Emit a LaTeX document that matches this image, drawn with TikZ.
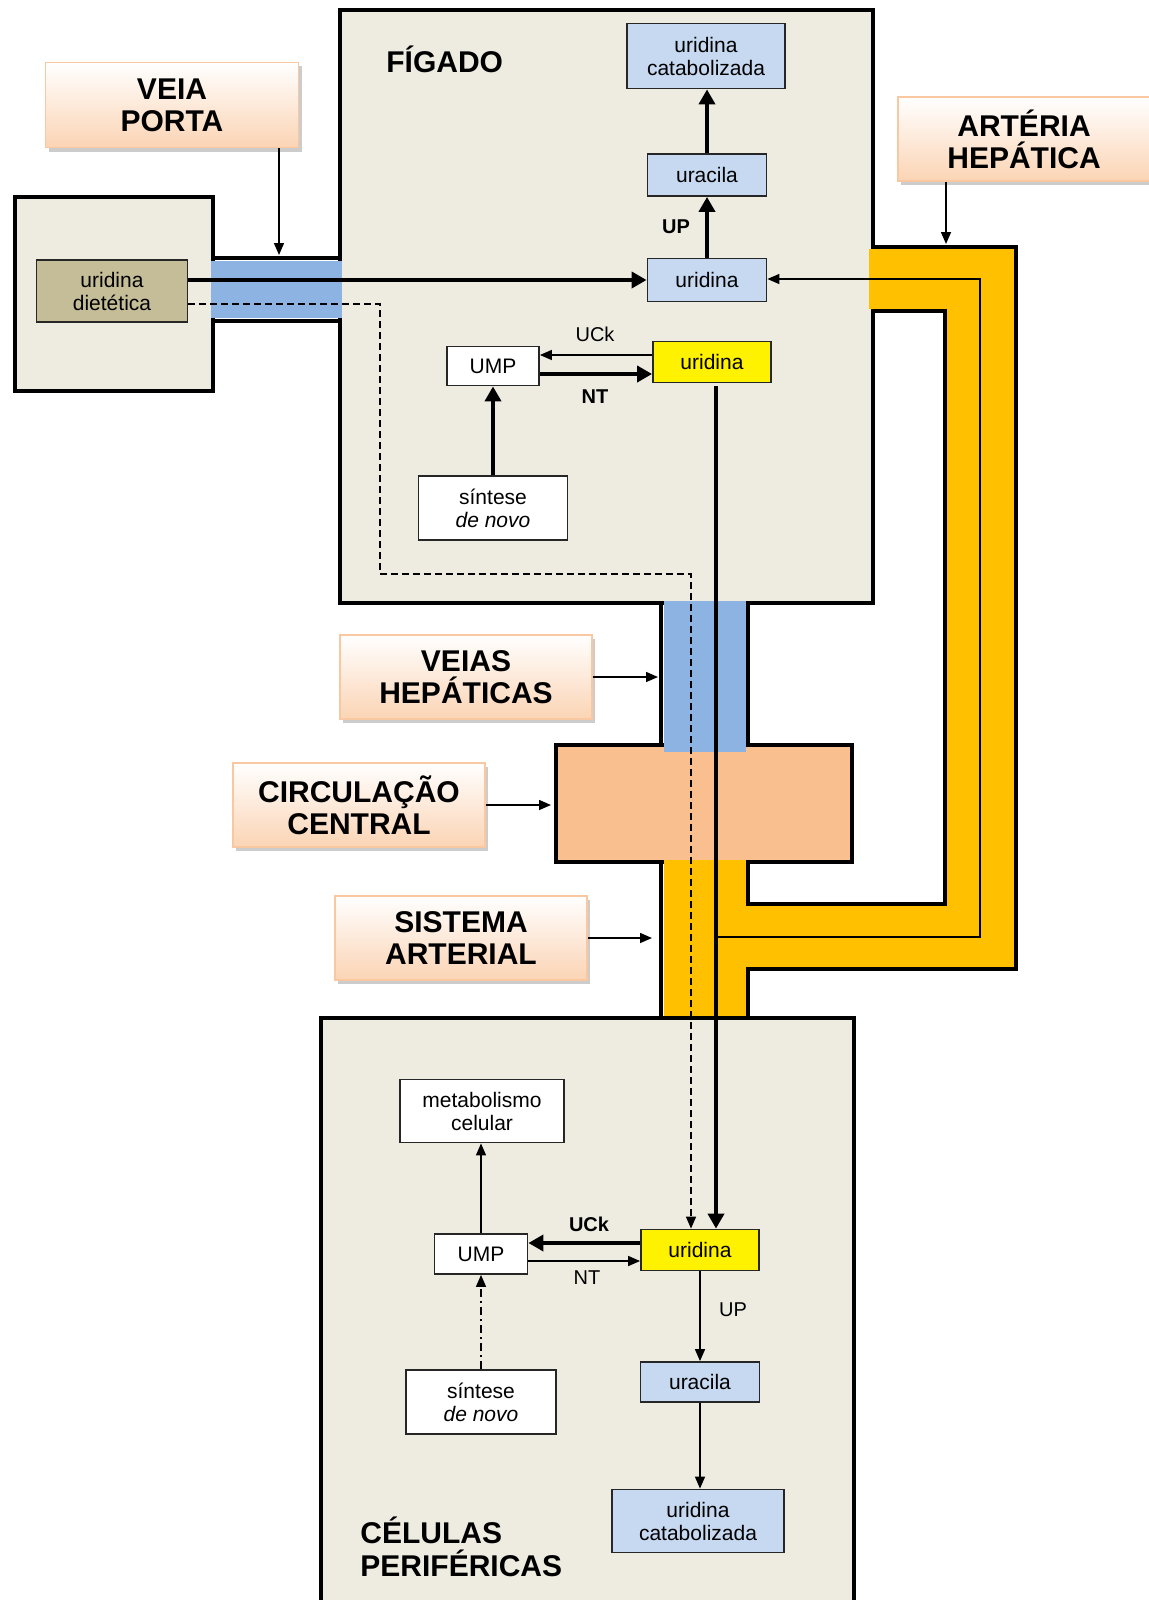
\documentclass[tikz,border=0pt]{standalone}
\usepackage{fontspec}
\setmainfont{Liberation Sans}
\usetikzlibrary{arrows.meta,shadows}
\definecolor{beige}{HTML}{EEECE1}
\definecolor{lblue}{HTML}{C6D9F1}
\definecolor{tubeblue}{HTML}{8DB3E2}
\definecolor{artorange}{HTML}{FFC000}
\definecolor{peach}{HTML}{FABF8F}
\definecolor{labbot}{HTML}{FBD4B4}
\definecolor{labborder}{HTML}{F9C8A0}
\definecolor{tanbox}{HTML}{C4BD97}
\tikzset{
  wall/.style={line width=2.25pt},
  sz/.style 2 args={minimum width=#1*0.5pt, minimum height=#2*0.5pt},
  nbox/.style={draw=black!85, line width=0.9pt, inner sep=0pt, align=center,
    font=\fontsize{10.5}{11.5}\selectfont},
  lab/.style={draw=labborder, line width=0.6pt, top color=white, bottom color=labbot,
    drop shadow={shadow xshift=1.5pt, shadow yshift=-2pt, fill=black!40, opacity=0.5},
    inner sep=0pt, align=center, font=\bfseries\fontsize{15}{16}\selectfont},
  title/.style={inner sep=0pt, font=\bfseries\fontsize{15}{16.5}\selectfont},
  smallb/.style={inner sep=0pt, font=\bfseries\fontsize{10}{11}\selectfont},
  smalln/.style={inner sep=0pt, font=\fontsize{10}{11}\selectfont},
  thk/.style={line width=2pt, -{Triangle[length=7.5pt,width=8pt]}},
  thn/.style={line width=0.75pt, -{Triangle[length=6pt,width=5pt]}},
}
\begin{document}
\begin{tikzpicture}[x=0.5pt,y=-0.5pt]
\useasboundingbox (0,0) rectangle (1148,1600);
% compartments
\draw[wall, fill=beige] (340,10) rectangle (873,603);
\draw[wall, fill=beige] (15,197) rectangle (213,391);
\draw[wall, fill=peach] (556,745) rectangle (852,862);
% portal vein
\fill[tubeblue] (211,261) rectangle (342,318);
\draw[wall] (213,258) -- (340,258);
\draw[wall] (213,321) -- (340,321);
% hepatic veins
\fill[tubeblue] (664,601) rectangle (746,752);
\draw[wall] (661,603) -- (661,745);
\draw[wall] (748,603) -- (748,745);
% hepatic artery and arterial system
\fill[artorange] (869,249) -- (1014,249) -- (1014,967) -- (746,967) -- (746,906)
  -- (947,906) -- (947,309) -- (869,309) -- cycle;
\fill[artorange] (664,860) rectangle (746,1018);
\draw[wall] (873,247) -- (1016,247) -- (1016,969) -- (748,969) -- (748,1018);
\draw[wall] (873,311) -- (945,311) -- (945,904) -- (748,904) -- (748,862);
\draw[wall] (661,862) -- (661,1018);
% peripheral cells
\fill[beige] (321,1018) rectangle (854,1610);
\draw[wall] (321,1610) -- (321,1018) -- (854,1018) -- (854,1610);

% titles
\node[title, anchor=west] (fig) at (386,59) {FÍGADO};
\node[title, anchor=west, align=left] (cel) at (360,1547) {CÉLULAS\\PERIFÉRICAS};

% label boxes
\node[lab, sz={253}{85}] (veiaPorta) at (172,105) {VEIA\\PORTA};
\node[lab, sz={252}{84}] (arteria) at (1024,139) {ARTÉRIA\\HEPÁTICA};
\node[lab, sz={252}{84}] (veiasHep) at (466,677) {VEIAS\\HEPÁTICAS};
\node[lab, sz={252}{84}] (circ) at (359,805) {CIRCULAÇÃO\\CENTRAL};
\node[lab, sz={252}{84}] (sist) at (461,938) {SISTEMA\\ARTERIAL};

% liver nodes
\node[nbox, fill=lblue, sz={158}{65}] (catabL) at (706,56) {uridina\\catabolizada};
\node[nbox, fill=lblue, sz={119}{42}] (uraL) at (707,175) {uracila};
\node[nbox, fill=lblue, sz={119}{43}] (uriL) at (707,280) {uridina};
\node[nbox, fill=yellow, sz={118}{41}] (uriYL) at (712,362) {uridina};
\node[nbox, fill=white, sz={92}{39}] (umpL) at (493,366) {UMP};
\node[nbox, fill=white, sz={149}{64}] (sintL) at (493,508) {síntese\\\textit{de novo}};
\node[nbox, fill=tanbox, sz={151}{62}] (dieta) at (112,291) {uridina\\dietética};

% peripheral nodes
\node[nbox, fill=white, sz={164}{63}] (metab) at (482,1111) {metabolismo\\celular};
\node[nbox, fill=white, sz={93}{40}] (umpP) at (481,1254) {UMP};
\node[nbox, fill=yellow, sz={118}{41}] (uriYP) at (700,1250) {uridina};
\node[nbox, fill=lblue, sz={119}{40}] (uraP) at (700,1382) {uracila};
\node[nbox, fill=lblue, sz={172}{63}] (catabP) at (698,1521) {uridina\\catabolizada};
\node[nbox, fill=white, sz={150}{64}] (sintP) at (481,1402) {síntese\\\textit{de novo}};

% small labels
\node[smallb] (upL) at (676,227) {UP};
\node[smalln] (uckL) at (595,334) {UCk};
\node[smallb] (ntL) at (595,397) {NT};
\node[smallb] (uckP) at (589,1224) {UCk};
\node[smalln] (ntP) at (587,1278) {NT};
\node[smalln] (upP) at (733,1310) {UP};

% free-end coordinates
\coordinate (pv) at (279,255);
\coordinate (ha) at (946,244);
\coordinate (hv) at (658,677);
\coordinate (cc) at (551,805);
\coordinate (sa) at (652,938);
\coordinate (jn) at (716,937);
\coordinate (ar1) at (980,937);
\coordinate (ar2) at (980,279);
\coordinate (thkTop) at (716,386);
\coordinate (d1) at (380,304);
\coordinate (d2) at (380,574);
\coordinate (d3) at (691,574);

% label arrows
\draw[thn] (veiaPorta.south -| pv) -- (pv);
\draw[thn] (arteria.south -| ha) -- (ha);
\draw[thn] (veiasHep.east) -- (hv |- veiasHep.east);
\draw[thn] (circ.east) -- (cc |- circ.east);
\draw[thn] (sist.east) -- (sa |- sist.east);

% liver flows
\draw[thk] (dieta.east |- uriL.west) -- (uriL.west);
\draw[thn, -{Triangle[length=6pt,width=5pt]}, dash pattern=on 3.5pt off 2pt] (dieta.east) ++(0,13) -- (d1) -- (d2) -- (d3) -- (d3 |- uriYP.north);
\draw[thk] (uriL.north) -- (uraL.south);
\draw[thk] (uraL.north) -- (uraL.north |- catabL.south);
\draw[thn] (uriYL.west |- 0,355) -- (umpL.east |- 0,355);
\draw[thk] (umpL.east |- 0,374) -- (uriYL.west |- 0,374);
\draw[thk] (sintL.north) -- (umpL.south);
\draw[thk] (thkTop) -- (thkTop |- uriYP.north);
\draw[thn] (jn) -- (ar1) -- (ar2) -- (uriL.east |- ar2);

% peripheral flows
\draw[thk] (uriYP.west |- 0,1243) -- (umpP.east |- 0,1243);
\draw[thn] (umpP.east |- 0,1261) -- (uriYP.west |- 0,1261);
\draw[thn] (umpP.north) -- (umpP.north |- metab.south);
\draw[thn, dash pattern=on 4pt off 2pt on 1pt off 2pt] (sintP.north) -- (umpP.south);
\draw[thn] (uriYP.south) -- (uraP.north);
\draw[thn] (uraP.south) -- (uraP.south |- catabP.north);
\end{tikzpicture}
\end{document}
